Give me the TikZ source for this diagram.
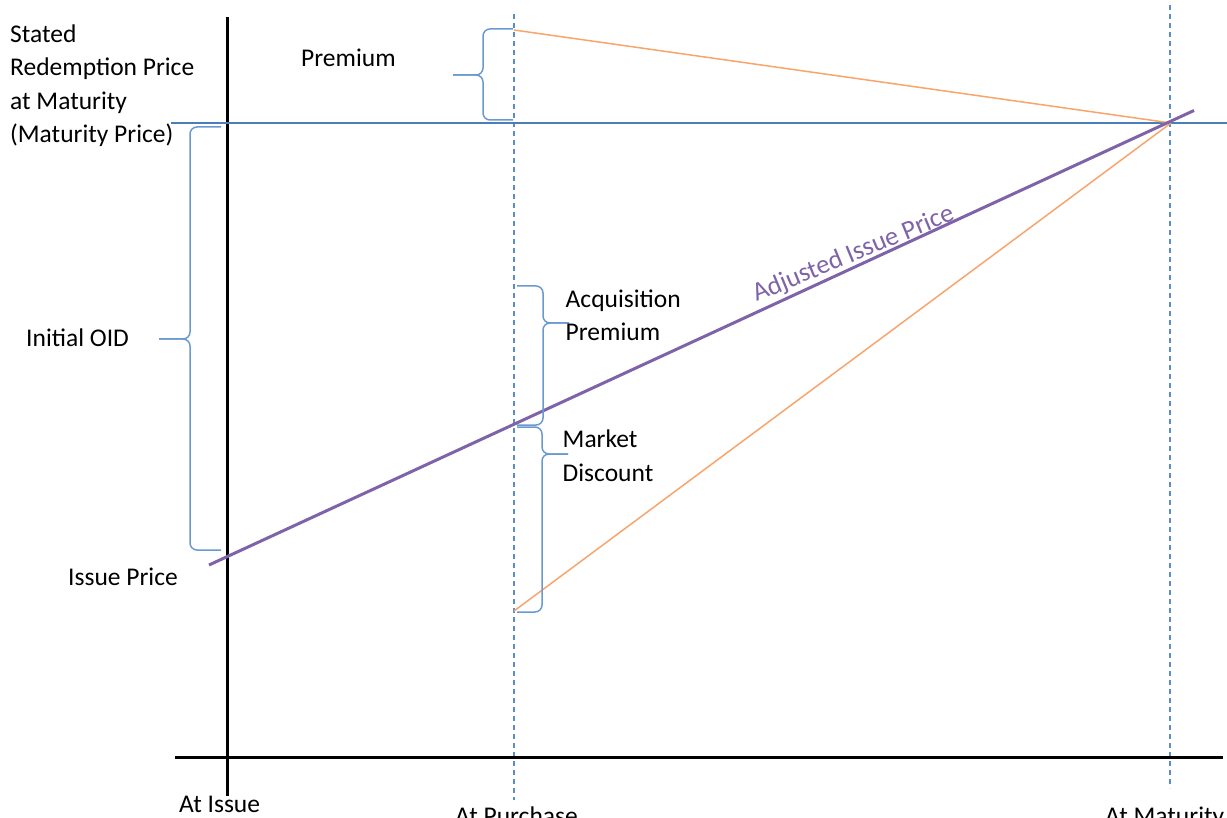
\documentclass[tikz,border=0pt]{standalone}
\usepackage{fontspec}
\setmainfont{Carlito}
\usetikzlibrary{calc}
\definecolor{parblue}{HTML}{4A7EBB}
\definecolor{guideblue}{HTML}{5B8BC9}
\definecolor{braceblue}{HTML}{6A99D0}
\definecolor{adjpurple}{HTML}{7F63A8}
\definecolor{buyorange}{HTML}{F8A56C}
\tikzset{
	axis/.style={line width=3pt, black},
	parline/.style={line width=2.8pt, color=parblue},
	guide/.style={line width=1.2pt, color=guideblue, dash pattern=on 5pt off 4pt},
	brace/.style={line width=1.5pt, color=braceblue, rounded corners=7pt},
	adjline/.style={line width=3pt, color=adjpurple},
	buyline/.style={line width=1.5pt, color=buyorange},
	lbl/.style={font=\fontsize{25.5}{33.5}\selectfont, inner sep=0pt, align=left}
}
% left or right curly brace: (end x, top y, bottom y)(stem x, tip x, tip y)
\def\curly(#1,#2,#3)(#4,#5,#6){%
	\draw[brace] (#1,#2) -| (#4,#6) -- (#5,#6);
	\draw[brace] (#5,#6) -- (#4,#6) |- (#1,#3);}

\begin{document}
\begin{tikzpicture}[x=1pt, y=-1pt]
			%%%%% START %%%%%
			\useasboundingbox (0,0) rectangle (1227,818);
			
			\coordinate (mat) at (1171, 123);
			\coordinate (buyhi) at (514, 30);
			\coordinate (buylo) at (514, 611);
			\coordinate (adjA) at (209, 565);
			\coordinate (adjB) at (1194, 110.5);
			
			% time guides
			\draw[guide] (514, 14) -- (514, 800);
			\draw[guide] (1170, 5) -- (1170, 788);
			
			% axes
			\draw[axis] (227, 17) -- (227, 796);
			\draw[axis] (175, 757) -- (1223, 757);
			
			% maturity price
			\draw[parline] (171, 123) -- (1227, 123);
			
			% purchase price paths
			\draw[buyline] (buyhi) -- (mat);
			\draw[buyline] (buylo) -- (mat);
			
			% adjusted issue price
			\draw[adjline] (adjA) -- (adjB);
			\node[lbl, font=\fontsize{26.5}{33.5}\selectfont, color=adjpurple, anchor=base west, rotate=22.5] (adj) at (756.5, 302) {Adjusted Issue Price};
			
			% braces
			\curly(513,29,120)(483,453,75)
			\curly(221,127,550)(190,159,339)
			\curly(517,286,425)(543,569,323)
			\curly(517,427,612)(542,568,454)
			
			% labels (base = last line)
			\node[lbl, anchor=base west] (stated) at (10, 142.7) {Stated\\Redemption Price\\at Maturity\\(Maturity Price)};
			\node[lbl, anchor=base west] (prem) at (301, 66.7) {Premium};
			\node[lbl, anchor=base west] (oid) at (26, 347) {Initial OID};
			\node[lbl, anchor=base west] (issue) at (68, 585) {Issue Price};
			\node[lbl, anchor=base west] (acq) at (565.5, 341) {Acquisition\\Premium};
			\node[lbl, anchor=base west] (mkt) at (562.5, 481) {Market\\Discount};
			
			\node[lbl, anchor=base west] (tIssue) at (179, 812.7) {At Issue};
			\node[lbl, anchor=base west] (tBuy) at (455, 824.5) {At Purchase};
			\node[lbl, anchor=base west] (tMat) at (1105, 824.5) {At Maturity};
			%%%%% END %%%%%
\end{tikzpicture}
\end{document}
